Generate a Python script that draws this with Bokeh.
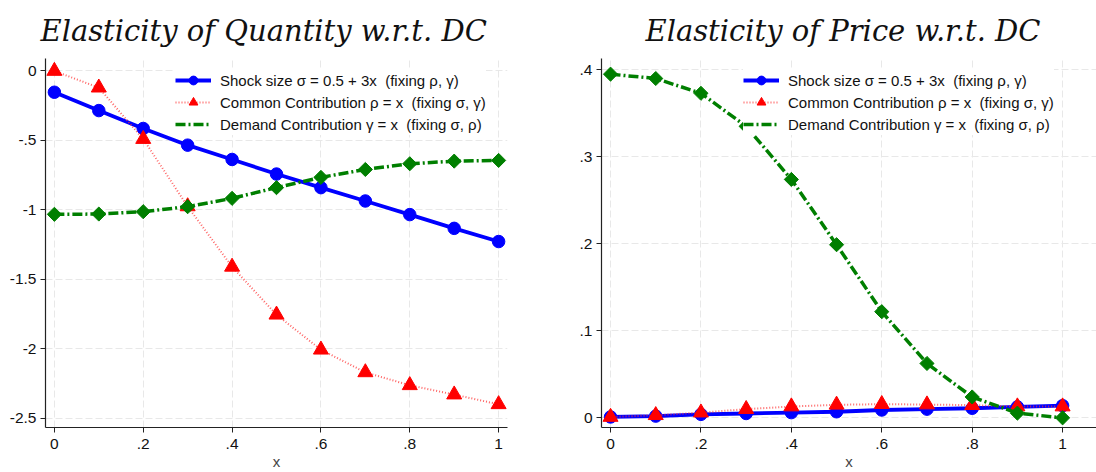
import math
from bokeh.plotting import figure
from bokeh.layouts import row
from bokeh.models import FixedTicker, Range1d, Legend, LegendItem
from bokeh.embed import file_html
from bokeh.resources import INLINE

x = [0.0, 0.1, 0.2, 0.3, 0.4, 0.5, 0.6, 0.7, 0.8, 0.9, 1.0]

q_shock = [-0.153, -0.285, -0.414, -0.534, -0.637, -0.742, -0.840, -0.936, -1.034, -1.133, -1.228]
q_common = [0.0, -0.12, -0.49, -0.975, -1.41, -1.755, -2.007, -2.17, -2.263, -2.33, -2.40]
q_demand = [-1.032, -1.030, -1.013, -0.977, -0.917, -0.840, -0.766, -0.709, -0.668, -0.649, -0.644]

p_shock = [0.001, 0.002, 0.004, 0.005, 0.006, 0.007, 0.009, 0.010, 0.011, 0.0126, 0.014]
p_common = [0.001, 0.003, 0.006, 0.010, 0.013, 0.015, 0.0157, 0.0153, 0.0146, 0.013, 0.013]
p_demand = [0.395, 0.390, 0.373, 0.335, 0.274, 0.199, 0.122, 0.0625, 0.024, 0.0054, 0.0]

x_ticks = [0, 0.2, 0.4, 0.6, 0.8, 1.0]
x_labels = ["0", ".2", ".4", ".6", ".8", "1"]
q_ticks = [0, -0.5, -1, -1.5, -2, -2.5]
q_labels = ["0", "-.5", "-1", "-1.5", "-2", "-2.5"]
pr_ticks = [0, 0.1, 0.2, 0.3, 0.4]
pr_labels = ["0", ".1", ".2", ".3", ".4"]

labels = ["Shock size \u03c3 = 0.5 + 3x  (fixing \u03c1, \u03b3)",
          "Common Contribution \u03c1 = x  (fixing \u03c3, \u03b3)",
          "Demand Contribution \u03b3 = x  (fixing \u03c3, \u03c1)"]

FONT = "Liberation Sans"


def make(title, ys, yticks, ylabels, yr, xr, width, bl, br, legend_x, title_off):
    p = figure(width=width, height=472, output_backend="svg", toolbar_location=None,
               x_range=Range1d(*xr), y_range=Range1d(*yr),
               min_border_left=bl, min_border_right=br, min_border_top=58, min_border_bottom=44)
    p.title.text = title
    p.title.text_font = "DejaVu Serif"
    p.title.text_font_style = "italic"
    p.title.text_font_size = "29px"
    p.title.text_color = "#111111"
    p.title.align = "left"
    p.title.vertical_align = "top"
    p.title.offset = title_off
    p.title.standoff = 18
    p.outline_line_color = None
    p.background_fill_color = "white"
    p.border_fill_color = "white"

    for ax in (p.xaxis[0], p.yaxis[0]):
        ax.axis_line_color = "#222222"
        ax.axis_line_width = 1.2
        ax.major_tick_line_color = "#222222"
        ax.major_tick_out = 5
        ax.major_tick_in = 0
        ax.minor_tick_line_color = None
        ax.major_label_text_font = FONT
        ax.major_label_text_font_size = "15.5px"
        ax.major_label_text_color = "#111111"
    p.xaxis.major_label_standoff = 6
    p.yaxis.major_label_standoff = 4
    p.xaxis.ticker = FixedTicker(ticks=x_ticks)
    p.xaxis.major_label_overrides = {t: l for t, l in zip(x_ticks, x_labels)}
    p.yaxis.ticker = FixedTicker(ticks=yticks)
    p.yaxis.major_label_overrides = {t: l for t, l in zip(yticks, ylabels)}
    p.xaxis.axis_label = "x"
    p.xaxis.axis_label_text_font = FONT
    p.xaxis.axis_label_text_font_style = "normal"
    p.xaxis.axis_label_text_font_size = "15px"
    p.xaxis.axis_label_standoff = 1
    for g in (p.xgrid[0], p.ygrid[0]):
        g.grid_line_color = "#e8e8e8"
        g.grid_line_dash = "7 3"
        g.grid_line_width = 1

    s_shock, s_common, s_demand = ys
    l1 = p.line(x, s_shock, line_color="#0000ff", line_width=3.8)
    m1 = p.scatter(x, s_shock, marker="circle", size=12.5, fill_color="#0000ff", line_color="#0000ff")
    l2 = p.line(x, s_common, line_color="#ff3030", line_width=2, line_dash="1 2", line_alpha=0.75)
    m2 = p.scatter(x, s_common, marker="triangle", size=15, fill_color="#ff0000", line_color="#ff0000")
    l3 = p.line(x, s_demand, line_color="#007f00", line_width=3.5, line_dash="10 3 2 3")
    m3 = p.scatter(x, s_demand, marker="square", angle=math.pi / 4, size=10,
                   fill_color="#007f00", line_color="#007f00")
    # legend-only proxy (no data) so the key shows a diamond
    m3_key = p.scatter(x=[], y=[], marker="diamond", size=15, fill_color="#007f00", line_color="#007f00")

    legend = Legend(items=[LegendItem(label=labels[0], renderers=[l1, m1]),
                           LegendItem(label=labels[1], renderers=[l2, m2]),
                           LegendItem(label=labels[2], renderers=[l3, m3_key])],
                    location=(legend_x, 292))
    legend.label_text_font = FONT
    legend.label_text_font_size = "15px"
    legend.label_text_color = "#111111"
    legend.glyph_width = 36
    legend.glyph_height = 22
    legend.label_height = 22
    legend.label_standoff = 9
    legend.spacing = 0
    legend.padding = 4
    legend.margin = 0
    legend.border_line_color = None
    legend.background_fill_color = "white"
    legend.background_fill_alpha = 1.0
    p.add_layout(legend, "center")
    return p


p1 = make("Elasticity of Quantity w.r.t. DC", (q_shock, q_common, q_demand),
          q_ticks, q_labels, (-2.567, 0.09), (-0.02, 1.02), 548, 45, 41, 130, -5)
p2 = make("Elasticity of Price w.r.t. DC", (p_shock, p_common, p_demand),
          pr_ticks, pr_labels, (-0.0111, 0.413), (-0.02, 1.075), 548, 53, 0, 142, 44)

layout = row(p1, p2)
open("out.html", "w").write(file_html(layout, INLINE))
